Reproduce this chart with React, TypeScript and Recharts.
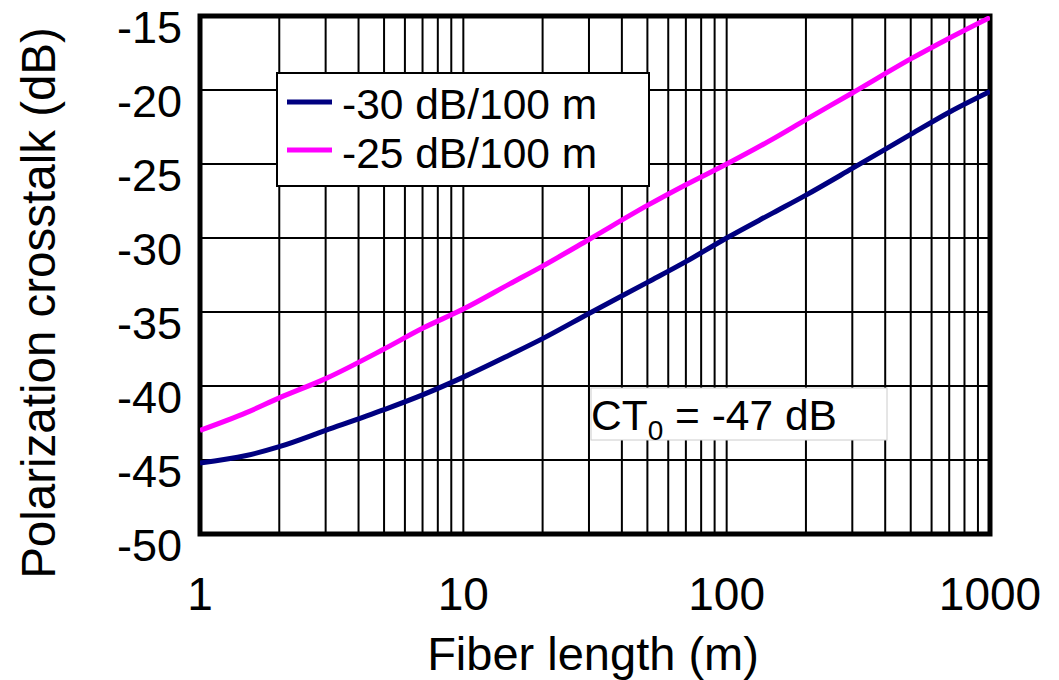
import React from 'react';
import {
    LineChart,
    Line,
    XAxis,
    YAxis,
    ReferenceLine,
    ReferenceArea,
    Legend
} from 'recharts';

const FONT = '"Liberation Sans", Arial, sans-serif';

// fiber length (m)
const lengths = [1, 1.5, 2, 3, 5, 7, 10, 15, 20, 30, 50, 70, 100, 150, 200, 300, 500, 700, 1000];
// -30 dB/100 m
const ct30 = [-45.2, -44.7, -44.1, -43.0, -41.6, -40.6, -39.4, -37.9, -36.8, -35.1, -33.0, -31.6, -30.0, -28.3, -27.1, -25.3, -23.0, -21.5, -20.1];
// -25 dB/100 m
const ct25 = [-43.0, -41.8, -40.8, -39.5, -37.5, -36.1, -34.8, -33.1, -31.9, -30.1, -27.8, -26.4, -25.0, -23.3, -22.0, -20.2, -17.9, -16.5, -15.1];

const xTicks = [1, 10, 100, 1000];
const yTicks = [-50, -45, -40, -35, -30, -25, -20, -15];
const xGrid = [2, 3, 4, 5, 6, 7, 8, 9, 10, 20, 30, 40, 50, 60, 70, 80, 90, 100, 200, 300, 400, 500, 600, 700, 800, 900];
const yGrid = [-45, -40, -35, -30, -25, -20];

const seriesNames = ['-30 dB/100 m', '-25 dB/100 m'];
const seriesColors = ['#000080', '#ff00ff'];

const data = lengths.map((len, i) => ({ len, a: ct30[i], b: ct25[i] }));

const XTick = (props: any) => {
    const { x, y, payload } = props;
    return (
        <text x={x} y={y + 76} textAnchor="middle" fontSize={46} fontFamily={FONT} fill="#000">
            {payload.value}
        </text>
    );
};

const YTick = (props: any) => {
    const { x, y, payload } = props;
    return (
        <text x={x} y={y + 27} textAnchor="end" fontSize={45} fontFamily={FONT} fill="#000">
            {payload.value}
        </text>
    );
};

const LegendBox = () => (
    <svg width={374} height={115} style={{ display: 'block' }}>
        <rect x={1} y={1} width={372} height={113} fill="#fff" stroke="#000" strokeWidth={2} />
        {seriesNames.map((name, i) => (
            <g key={name}>
                <line x1={11} x2={56} y1={30 + i * 48} y2={30 + i * 48} stroke={seriesColors[i]} strokeWidth={5} />
                <text x={66} y={47 + i * 49} fontSize={42.5} fontFamily={FONT} fill="#000">{name}</text>
            </g>
        ))}
    </svg>
);

export default function App() {
    return (
        <div style={{ position: 'absolute', left: 0, top: 0, width: 1059, height: 680, background: '#fff' }}>
            <LineChart
                width={1059}
                height={680}
                data={data}
                margin={{ top: 16, right: 69, left: 50, bottom: 46 }}
            >
                <XAxis
                    dataKey="len"
                    type="number"
                    scale="log"
                    domain={[1, 1000]}
                    ticks={xTicks}
                    allowDataOverflow
                    axisLine={false}
                    tickLine={false}
                    tickSize={0}
                    tickMargin={0}
                    height={100}
                    tick={<XTick />}
                    label={{
                        content: (p: any) => (
                            <text x={p.viewBox.x + p.viewBox.width / 2 - 2} y={p.viewBox.y + 136} textAnchor="middle" fontSize={47} fontFamily={FONT} fill="#000">
                                Fiber length (m)
                            </text>
                        )
                    }}
                />
                <YAxis
                    type="number"
                    domain={[-50, -15]}
                    ticks={yTicks}
                    allowDataOverflow
                    axisLine={false}
                    tickLine={false}
                    tickSize={0}
                    tickMargin={18}
                    width={150}
                    tick={<YTick />}
                    label={{
                        content: () => (
                            <text
                                x={55}
                                y={303}
                                transform="rotate(-90, 55, 303)"
                                textAnchor="middle"
                                fontSize={47.5}
                                fontFamily={FONT}
                                fill="#000"
                            >
                                Polarization crosstalk (dB)
                            </text>
                        )
                    }}
                />
                {xGrid.map(v => (
                    <ReferenceLine key={'x' + v} x={v} stroke="#000" strokeWidth={2} />
                ))}
                {yGrid.map(v => (
                    <ReferenceLine key={'y' + v} y={v} stroke="#000" strokeWidth={2} />
                ))}
                <Line type="monotone" dataKey="a" name={seriesNames[0]} stroke={seriesColors[0]} strokeWidth={5} dot={false} isAnimationActive={false} />
                <Line type="monotone" dataKey="b" name={seriesNames[1]} stroke={seriesColors[1]} strokeWidth={5} dot={false} isAnimationActive={false} />
                <ReferenceArea x1={1} x2={1000} y1={-50} y2={-15} fill="none" stroke="#000" strokeWidth={5} />
                <Legend
                    layout="vertical"
                    align="center"
                    verticalAlign="middle"
                    content={<LegendBox />}
                    wrapperStyle={{ position: 'absolute', left: 276, top: 72, width: 374, height: 115 }}
                />
            </LineChart>
            <svg width={1059} height={680} style={{ position: 'absolute', left: 0, top: 0, pointerEvents: 'none' }}>
                <rect x={591} y={388} width={296} height={52} fill="#fff" stroke="#ccc" strokeWidth={1} />
                <text x={591} y={430} fontSize={42.5} fontFamily={FONT} fill="#000">
                    CT<tspan fontSize={28} dy={10}>0</tspan><tspan dy={-10}> = -47 dB</tspan>
                </text>
            </svg>
        </div>
    );
}
